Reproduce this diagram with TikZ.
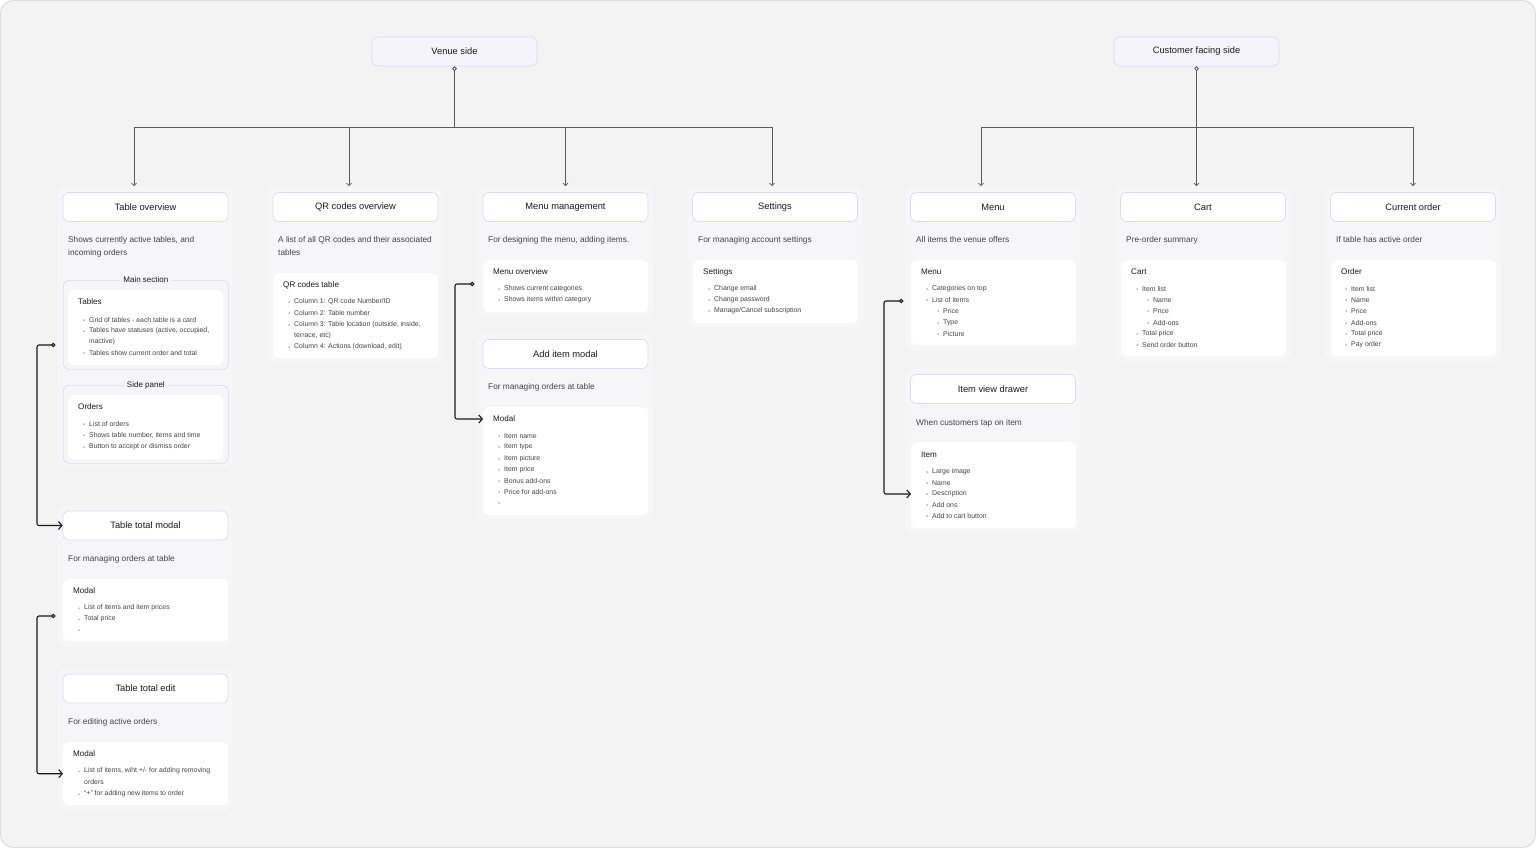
\documentclass[tikz,border=0pt]{standalone}
\usepackage{fontspec}
\setmainfont{Liberation Sans}
\usepackage{tikz}
\usetikzlibrary{arrows.meta,positioning}
\definecolor{Canvas}{HTML}{F3F3F3}
\definecolor{Edge}{HTML}{DDDDDD}
\definecolor{Panel}{HTML}{F6F6F8}
\definecolor{Lavender}{HTML}{DCD8F6}
\definecolor{RootFill}{HTML}{F5F4FA}
\definecolor{Ink}{HTML}{1A1A1A}
\definecolor{InkSoft}{HTML}{444444}
\definecolor{Dot}{HTML}{7A7A7A}
\definecolor{Wire}{HTML}{5A5A5A}

\begin{document}
\begin{tikzpicture}[
  x=1pt,y=-1pt,
  >=Latex,
  every node/.style={text=Ink,font=\fontsize{7}{8}\selectfont},
  head/.style={draw=Lavender,fill=white,rounded corners=6pt,line width=0.7pt,
    minimum width=165pt,minimum height=29pt,font=\fontsize{9.3}{11}\selectfont},
  root/.style={head,fill=RootFill},
  panel/.style={fill=Panel,rounded corners=8pt},
  card/.style={fill=white,rounded corners=6pt,anchor=north west,
    minimum width=165pt,inner sep=0pt},
  fieldset/.style={draw=Lavender,line width=0.7pt,rounded corners=6pt,
    anchor=north west,minimum width=165pt,inner sep=0pt},
  legend/.style={fill=Panel,inner sep=3pt,font=\fontsize{8}{9}\selectfont},
  desc/.style={anchor=west,align=left,inner sep=0pt,text=InkSoft,
    font=\fontsize{8.3}{13}\selectfont},
  cardtitle/.style={anchor=west,inner sep=0pt,font=\fontsize{8.1}{9}\selectfont},
  bul/.style={anchor=west,text=InkSoft,inner sep=0pt,font=\fontsize{6.9}{7}\selectfont},
  bdot/.style={fill=Dot},
  tree/.style={draw=Wire,line width=0.8pt},
  drop/.style={tree,-{Straight Barb[length=2.5pt,width=5pt]},shorten >=6pt},
  link/.style={draw=Ink,line width=1.1pt,rounded corners=2pt,
    {Circle[open,length=4.5pt,width=4.5pt]}-{Straight Barb[length=3.5pt,width=8pt]}}
]
  \useasboundingbox (0,0) rectangle (1536,848);
  \fill[white] (0,0) rectangle (1536,848);
  \draw[fill=Canvas,draw=Edge,line width=1pt,rounded corners=13pt]
    (0.5,0.5) rectangle (1535.5,847.5);

  % panels
  \fill[panel] (58,186) rectangle (233,468);
  \fill[panel] (58,505) rectangle (233,647);
  \fill[panel] (58,669) rectangle (233,810);
  \fill[panel] (267,186) rectangle (443,364);
  \fill[panel] (477,186) rectangle (653,318);
  \fill[panel] (477,334) rectangle (653,521);
  \fill[panel] (687,186) rectangle (863,329);
  \fill[panel] (905,186) rectangle (1081,351);
  \fill[panel] (905,369) rectangle (1081,534);
  \fill[panel] (1115,186) rectangle (1291,362);
  \fill[panel] (1325,186) rectangle (1501,362);

  % roots
  \node[root] (venue) at (454.5,51.5) {Venue side};
  \node[root] (cust) at (1196.5,51.5) {Customer facing side};
  \coordinate (vbus) at (454.5,127);
  \coordinate (cbus) at (1196.5,127);

  % headers
  \node[head] (tabov) at (145.5,207) {Table overview};
  \node[head] (qrov) at (355.5,207) {QR codes overview};
  \node[head] (menumg) at (565.5,207) {Menu management};
  \node[head] (sett) at (775,207) {Settings};
  \node[head] (menu) at (993,207) {Menu};
  \node[head] (cart) at (1203,207) {Cart};
  \node[head] (curord) at (1413,207) {Current order};
  \node[head] (ttmodal) at (145.5,525.5) {Table total modal};
  \node[head] (ttedit) at (145.5,688.5) {Table total edit};
  \node[head] (additem) at (565.5,354) {Add item modal};
  \node[head] (itemview) at (993,389) {Item view drawer};

  \draw[tree,{Circle[open,length=4.5pt,width=4.5pt]}-] (venue.south) -- (vbus);
  \draw[drop] (vbus) -| ([xshift=-11.5pt]tabov.north);
  \draw[drop] (vbus) -| ([xshift=-6.5pt]qrov.north);
  \draw[drop] (vbus) -| (menumg.north);
  \draw[drop] (vbus) -| ([xshift=-3pt]sett.north);
  \draw[tree,{Circle[open,length=4.5pt,width=4.5pt]}-] (cust.south) -- (cbus);
  \draw[drop] (cbus) -| ([xshift=-12pt]menu.north);
  \draw[drop] (cbus) -| ([xshift=-6.5pt]cart.north);
  \draw[drop] (cbus) -| (curord.north);

  % descriptions
  \node[desc] at (68,246.5) {Shows currently active tables, and\\incoming orders};
  \node[desc] at (278,246.5) {A list of all QR codes and their associated\\tables};
  \node[desc] at (488,240) {For designing the menu, adding items.};
  \node[desc] at (698,240) {For managing account settings};
  \node[desc] at (916,240) {All items the venue offers};
  \node[desc] at (1126,240) {Pre-order summary};
  \node[desc] at (1336,240) {If table has active order};
  \node[desc] at (68,559) {For managing orders at table};
  \node[desc] at (68,722) {For editing active orders};
  \node[desc] at (488,387) {For managing orders at table};
  \node[desc] at (916,423) {When customers tap on item};

  % table overview
  \node[fieldset,minimum height=89pt] (mainsec) at (63,280) {};
  \node[card,minimum width=155pt,minimum height=75pt] (tabcard) at (68,290) {};
  \node[legend] at (mainsec.north) {Main section};
  \node[cardtitle] at (78,302) {Tables};
  \foreach \y/\t in {320/{Grid of tables - each table is a card},
      331/{Tables have statuses (active, occupied,},353/{Tables show current order and total}}
    {\fill[bdot] (84,\y) circle (0.75pt); \node[bul] at (89,\y) {\t};}
  \node[bul] at (89,342) {inactive)};
  \node[fieldset,minimum height=78pt] (sidesec) at (63,385) {};
  \node[card,minimum width=155pt,minimum height=64pt] (ordcard) at (68,395) {};
  \node[legend] at (sidesec.north) {Side panel};
  \node[cardtitle] at (78,407) {Orders};
  \foreach \y/\t in {424/{List of orders},435/{Shows table number, items and time},
      447/{Button to accept or dismiss order}}
    {\fill[bdot] (84,\y) circle (0.75pt); \node[bul] at (89,\y) {\t};}

  % table total modal / edit
  \node[card,minimum height=62pt] (tmcard) at (63,579) {};
  \node[cardtitle] at (73,591) {Modal};
  \foreach \y/\t in {608/{List of items and item prices},619/{Total price},630/{}}
    {\fill[bdot] (79,\y) circle (0.75pt); \node[bul] at (84,\y) {\t};}
  \node[card,minimum height=63pt] (edcard) at (63,742) {};
  \node[cardtitle] at (73,754) {Modal};
  \foreach \y/\t in {771/{List of items, wiht +/- for adding removing},
      794/{“+” for adding new items to order}}
    {\fill[bdot] (79,\y) circle (0.75pt); \node[bul] at (84,\y) {\t};}
  \node[bul] at (84,782) {orders};

  % qr codes
  \node[card,minimum height=85pt] (qrcard) at (273,273) {};
  \node[cardtitle] at (283,285) {QR codes table};
  \foreach \y/\t in {302/{Column 1: QR code Number/ID},313/{Column 2: Table number},
      325/{Column 3: Table location (outside, inside,},347/{Column 4: Actions (download, edit)}}
    {\fill[bdot] (289,\y) circle (0.75pt); \node[bul] at (294,\y) {\t};}
  \node[bul] at (294,336) {terrace, etc)};

  % menu management
  \node[card,minimum height=52pt] (mocard) at (483,260) {};
  \node[cardtitle] at (493,272) {Menu overview};
  \foreach \y/\t in {289/{Shows current categories},300/{Shows items within category}}
    {\fill[bdot] (499,\y) circle (0.75pt); \node[bul] at (504,\y) {\t};}
  \node[card,minimum height=108pt] (aicard) at (483,407) {};
  \node[cardtitle] at (493,419) {Modal};
  \foreach \y/\t in {436/{Item name},447/{Item type},459/{Item picture},470/{Item price},
      481/{Bonus add-ons},492/{Price for add-ons},503/{}}
    {\fill[bdot] (499,\y) circle (0.75pt); \node[bul] at (504,\y) {\t};}

  % settings
  \node[card,minimum height=63pt] (setcard) at (693,260) {};
  \node[cardtitle] at (703,272) {Settings};
  \foreach \y/\t in {289/{Change email},300/{Change password},311/{Manage/Cancel subscription}}
    {\fill[bdot] (709,\y) circle (0.75pt); \node[bul] at (714,\y) {\t};}

  % menu (customer)
  \node[card,minimum height=85pt] (mencard) at (911,260) {};
  \node[cardtitle] at (921,272) {Menu};
  \foreach \y/\t in {289/{Categories on top},300/{List of items}}
    {\fill[bdot] (927,\y) circle (0.75pt); \node[bul] at (932,\y) {\t};}
  \foreach \y/\t in {311/{Price},323/{Type},334/{Picture}}
    {\fill[bdot] (938,\y) circle (0.75pt); \node[bul] at (943,\y) {\t};}
  \node[card,minimum height=86pt] (itcard) at (911,442) {};
  \node[cardtitle] at (921,455) {Item};
  \foreach \y/\t in {472/{Large image},483/{Name},494/{Description},505/{Add ons},
      516/{Add to cart button}}
    {\fill[bdot] (927,\y) circle (0.75pt); \node[bul] at (932,\y) {\t};}

  % cart
  \node[card,minimum height=96pt] (crtcard) at (1121,260) {};
  \node[cardtitle] at (1131,272) {Cart};
  \foreach \y/\t in {289/{Item list},334/{Total price},345/{Send order button}}
    {\fill[bdot] (1137,\y) circle (0.75pt); \node[bul] at (1142,\y) {\t};}
  \foreach \y/\t in {300/{Name},311/{Price},323/{Add-ons}}
    {\fill[bdot] (1148,\y) circle (0.75pt); \node[bul] at (1153,\y) {\t};}

  % current order
  \node[card,minimum height=96pt] (ordrcard) at (1331,260) {};
  \node[cardtitle] at (1341,272) {Order};
  \foreach \y/\t in {289/{Item list},300/{Name},311/{Price},323/{Add-ons},334/{Total price},
      345/{Pay order}}
    {\fill[bdot] (1346,\y) circle (0.75pt); \node[bul] at (1351,\y) {\t};}

  % links
  \coordinate (lk1) at (55.5,345);
  \coordinate (lk2) at (55.5,616);
  \coordinate (lk3) at (474.5,284);
  \coordinate (lk4) at (903.5,301);
  \coordinate (aiin) at (483,419);
  \coordinate (itin) at (911,494);
  \draw[link] (lk1) -- ++(-18.5,0) |- (ttmodal.west);
  \draw[link] (lk2) -- ++(-18.5,0) |- (edcard.west);
  \draw[link] (lk3) -- ++(-19.5,0) |- (aiin);
  \draw[link] (lk4) -- ++(-19.5,0) |- (itin);
\end{tikzpicture}
\end{document}
